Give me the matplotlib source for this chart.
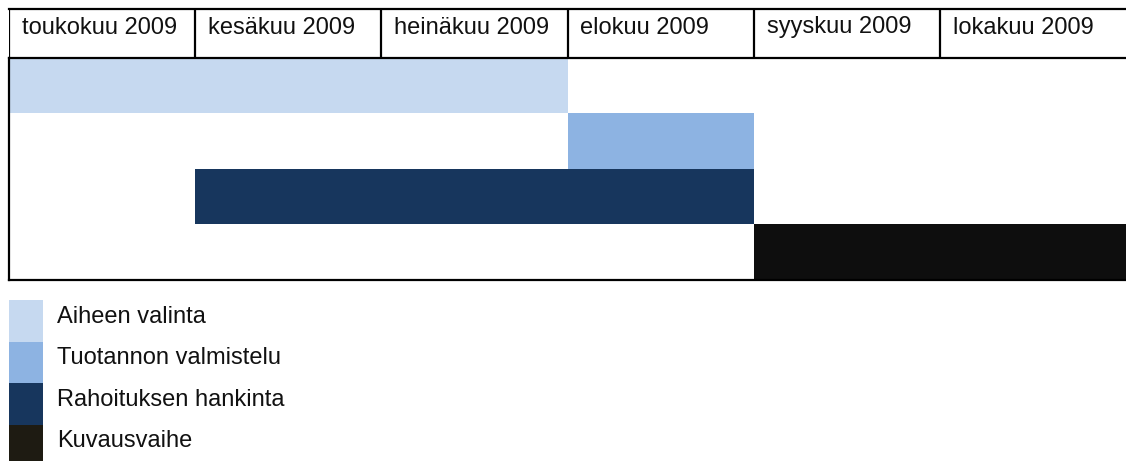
import matplotlib.pyplot as plt
from matplotlib.transforms import offset_copy

plt.rcParams['font.family'] = ['Liberation Sans', 'DejaVu Sans']

MONTHS = ['toukokuu 2009', 'kesäkuu 2009', 'heinäkuu 2009',
          'elokuu 2009', 'syyskuu 2009', 'lokakuu 2009']
TASKS = ['Aiheen valinta', 'Tuotannon valmistelu',
         'Rahoituksen hankinta', 'Kuvausvaihe']
START = [0, 3, 1, 4]   # month index where task starts
END = [3, 4, 4, 6]     # month index where task ends
BAR_COLORS = ['#C6D9F0', '#8DB3E2', '#17365D', '#0E0E0E']
LEGEND_COLORS = ['#C6D9F0', '#8DB3E2', '#17365D', '#1E1B12']

W, H = 1126, 461
fig = plt.figure(figsize=(W / 100, H / 100), dpi=100)


def px_axes(x0, y0, x1, y1):
    # axes placed by pixel box (top-left origin)
    return fig.add_axes([x0 / W, 1 - y1 / H, (x1 - x0) / W, (y1 - y0) / H])


lw = 1.6

# gantt body
ax = px_axes(9, 58, 1126, 280)
for i in range(len(TASKS)):
    ax.barh(i, END[i] - START[i], left=START[i], height=1,
            color=BAR_COLORS[i], linewidth=0)
ax.set_xlim(0, len(MONTHS))
ax.set_ylim(len(TASKS) - 0.5, -0.5)
ax.set_xticks([])
ax.set_yticks([])
ax.spines['top'].set_visible(False)
ax.spines['right'].set_visible(False)
ax.spines['left'].set_linewidth(lw)
ax.spines['bottom'].set_linewidth(lw)

# header with month names (drawn on top so its bottom line stays whole)
hdr = px_axes(9, 9, 1126, 58)
hdr.set_zorder(3)
hdr.patch.set_visible(False)
hdr.set_xlim(0, len(MONTHS))
hdr.set_ylim(0, 1)
hdr.set_xticks([])
hdr.set_yticks([])
for s in ['right', 'left']:
    hdr.spines[s].set_visible(False)
for s in ['top', 'bottom']:
    hdr.spines[s].set_linewidth(lw)
for i, m in enumerate(MONTHS):
    hdr.axvline(i, color='black', lw=lw)
    tr = offset_copy(hdr.transData, fig=fig, x=13, y=0, units='dots')
    hdr.text(i, 0.5, m, transform=tr, fontsize=17, ha='left', va='baseline',
             color='#111111')

# legend as swatch column
leg = px_axes(9, 300, 43, 466)
for i in range(len(TASKS)):
    leg.barh(i, 1, left=0, height=1, color=LEGEND_COLORS[i], linewidth=0)
    tr = offset_copy(leg.transData, fig=fig, x=14, y=0, units='dots')
    leg.text(1, i + 0.05, TASKS[i], transform=tr, fontsize=17,
             ha='left', va='baseline', color='#111111')
leg.set_xlim(0, 1)
leg.set_ylim(len(TASKS) - 0.5, -0.5)
leg.axis('off')

fig.savefig('out.png', dpi=100)
